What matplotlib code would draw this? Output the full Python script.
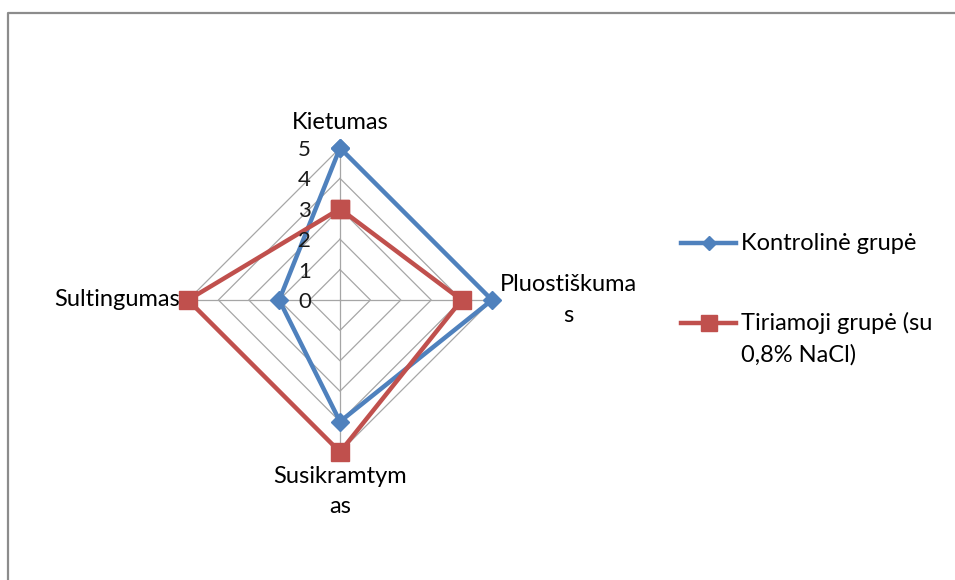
import numpy as np
import matplotlib
matplotlib.use("Agg")
import matplotlib.pyplot as plt
from matplotlib import transforms
from matplotlib.lines import Line2D

# chart data
categories = ["Kietumas", "Pluostiškuma\ns", "Susikramtym\nas", "Sultingumas"]
kontroline = [5, 5, 4, 2]
tiriamoji = [3, 4, 5, 5]
r_ticks = [0, 1, 2, 3, 4, 5]
series_names = ["Kontrolinė grupė", "Tiriamoji grupė (su\n0,8% NaCl)"]

BLUE = "#4F81BD"
RED = "#C0504D"
GRID = "#A6A6A6"

plt.rcParams["font.family"] = ["Lato", "DejaVu Sans"]
W, H = 955, 580
fig = plt.figure(figsize=(W / 100, H / 100), dpi=100)

# radar axes: centre (340, 300) px, radius 152 px
cx, cy, rad = 340, 300, 152
ax = fig.add_axes([(cx - rad) / W, (H - cy - rad) / H, 2 * rad / W, 2 * rad / H],
                  projection="polar")
ax.set_theta_offset(np.pi / 2)
ax.set_theta_direction(-1)
ax.set_ylim(0, max(r_ticks))
ax.axis("off")

angles = np.linspace(0, 2 * np.pi, len(categories), endpoint=False)
ang_closed = np.append(angles, angles[0])

# diamond gridlines and spokes
for lvl in r_ticks[1:]:
    ax.plot(ang_closed, [lvl] * len(ang_closed), color=GRID, lw=0.9, zorder=1, clip_on=False)
for a in angles:
    ax.plot([a, a], [0, max(r_ticks)], color=GRID, lw=0.9, zorder=1, clip_on=False)

# series
ax.plot(ang_closed, kontroline + kontroline[:1], color=BLUE, lw=3.2, marker="D",
        ms=9.5, zorder=3, clip_on=False)
ax.plot(ang_closed, tiriamoji + tiriamoji[:1], color=RED, lw=3.2, marker="s",
        ms=13, zorder=4, clip_on=False)

# radial tick labels, left of the top spoke
tick_trans = ax.transData + transforms.ScaledTranslation(-0.29, -0.02, fig.dpi_scale_trans)
for v in r_ticks:
    ax.text(0, v, str(v), transform=tick_trans, ha="right", va="center",
            fontsize=16, color="#1a1a1a", zorder=5)

# category labels
fs = 17
ax.text(angles[0], 5.5, categories[0], ha="center", va="bottom", fontsize=fs, clip_on=False)
ax.text(angles[1], 5.27, categories[1], ha="left", va="center", fontsize=fs,
        multialignment="center", linespacing=1.6, clip_on=False)
ax.text(angles[2], 5.45, categories[2], ha="center", va="top", fontsize=fs,
        multialignment="center", linespacing=1.55, clip_on=False)
ax.text(angles[3], 5.25, categories[3], ha="right", va="center", fontsize=fs, clip_on=False)

# chart frame (only left and top edges visible)
fig.add_artist(Line2D([8 / W, 8 / W, 1.01], [-0.01, 1 - 13 / H, 1 - 13 / H],
                      transform=fig.transFigure, color="#8C8C8C", lw=1.6))

# legend
def px(x, y):
    return x / W, 1 - y / H

lx0, lx1, tx = 681, 736, 741
for name, col, mk, ms, y in [(series_names[0], BLUE, "D", 7.5, 243),
                             (series_names[1], RED, "s", 12, 323)]:
    (x0, yy), (x1, _) = px(lx0, y), px(lx1, y)
    fig.add_artist(Line2D([x0, (x0 + x1) / 2, x1], [yy] * 3, transform=fig.transFigure,
                          color=col, lw=3.2, marker=mk, ms=ms, markevery=[1]))
    fig.text(px(tx, y)[0], yy, name.split("\n")[0], ha="left", va="center", fontsize=fs)
    if "\n" in name:
        fig.text(px(tx, y + 32)[0], px(tx, y + 32)[1], name.split("\n")[1],
                 ha="left", va="center", fontsize=fs)

fig.savefig("out.png", dpi=100)
